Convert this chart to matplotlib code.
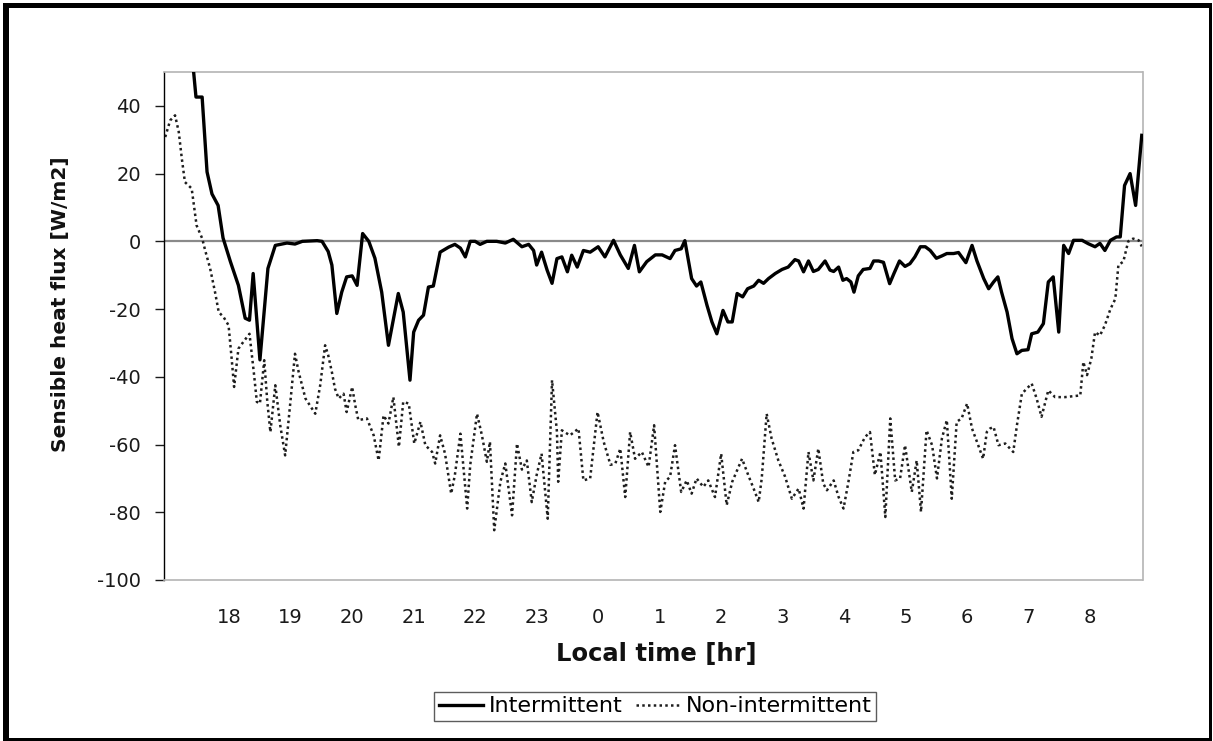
import matplotlib
matplotlib.use("Agg")
import matplotlib.pyplot as plt
from matplotlib.patches import Rectangle
from matplotlib.lines import Line2D

# Local time in decimal hours (values past 24 continue into the next morning)
time_intermittent = [17.37, 17.46, 17.56, 17.64, 17.72, 17.82, 17.90, 18.02, 18.15, 18.26,
                     18.33, 18.39, 18.50, 18.63, 18.75, 18.94, 19.07, 19.19, 19.43, 19.51,
                     19.61, 19.67, 19.75, 19.83, 19.91, 20.00, 20.08, 20.17, 20.27, 20.37,
                     20.48, 20.59, 20.75, 20.83, 20.94, 21.00, 21.08, 21.16, 21.24, 21.32,
                     21.43, 21.57, 21.67, 21.76, 21.84, 21.92, 22.00, 22.08, 22.19, 22.35,
                     22.49, 22.62, 22.76, 22.87, 22.95, 23.00, 23.08, 23.17, 23.25, 23.33,
                     23.41, 23.50, 23.57, 23.66, 23.76, 23.87, 24.00, 24.11, 24.25, 24.36,
                     24.49, 24.59, 24.67, 24.79, 24.93, 25.04, 25.17, 25.25, 25.35, 25.41,
                     25.52, 25.60, 25.67, 25.77, 25.85, 25.93, 26.03, 26.11, 26.18, 26.26,
                     26.35, 26.43, 26.53, 26.61, 26.69, 26.77, 26.88, 26.99, 27.09, 27.20,
                     27.26, 27.34, 27.42, 27.50, 27.58, 27.69, 27.77, 27.83, 27.91, 27.98,
                     28.04, 28.11, 28.16, 28.23, 28.31, 28.42, 28.48, 28.56, 28.64, 28.74,
                     28.81, 28.90, 28.99, 29.07, 29.15, 29.24, 29.32, 29.40, 29.50, 29.59,
                     29.67, 29.78, 29.86, 29.98, 30.08, 30.16, 30.27, 30.35, 30.43, 30.50,
                     30.56, 30.65, 30.73, 30.81, 30.89, 30.99, 31.05, 31.15, 31.24, 31.32,
                     31.40, 31.49, 31.57, 31.65, 31.73, 31.87, 31.97, 32.08, 32.16, 32.24,
                     32.33, 32.43, 32.49, 32.56, 32.65, 32.74, 32.84]

flux_intermittent = [60, 42.6, 42.6, 20.5, 14, 10.6, 1, -6, -13, -22.7,
                     -23.3, -9.5, -35, -8, -1.2, -0.5, -0.8, 0, 0.2, 0,
                     -3, -7, -21.3, -15, -10.5, -10.2, -13, 2.3, 0, -5,
                     -15, -30.7, -15.4, -20.9, -41, -26.8, -23.3, -21.8, -13.5, -13.2,
                     -3.2, -1.7, -0.9, -2, -4.6, 0, 0, -0.9, 0, 0,
                     -0.5, 0.6, -1.6, -0.9, -2.7, -7, -3.2, -8.5, -12.4, -5.1,
                     -4.6, -9, -4.1, -7.6, -2.7, -3.2, -1.6, -4.6, 0.3, -4,
                     -8, -1.2, -9, -6, -4, -4, -5.1, -2.7, -2.2, 0.2,
                     -11, -13.2, -12, -18.9, -23.8, -27.3, -20.4, -23.8, -23.8, -15.4,
                     -16.4, -14, -13.2, -11.5, -12.4, -11, -9.5, -8.3, -7.6, -5.4,
                     -5.8, -9, -5.8, -8.9, -8.3, -5.8, -8.5, -8.9, -7.6, -11.5,
                     -11, -12, -15, -10.2, -8.3, -8, -5.8, -5.8, -6.2, -12.5,
                     -9.5, -5.8, -7.4, -6.6, -4.6, -1.6, -1.6, -2.7, -5, -4.3,
                     -3.6, -3.6, -3.3, -6.3, -1.2, -5.8, -11, -14, -12, -10.5,
                     -15, -20.9, -28.7, -33.2, -32.2, -32, -27.3, -26.8, -24.3, -12,
                     -10.5, -26.8, -1.2, -3.6, 0.3, 0.3, -0.7, -1.6, -0.6, -2.7,
                     0.3, 1.3, 1.3, 16.5, 20, 10.6, 31.3]

time_non_intermittent = [16.96, 17.04, 17.12, 17.18, 17.23, 17.28, 17.39, 17.47, 17.56, 17.61,
                         17.69, 17.77, 17.83, 17.91, 17.99, 18.04, 18.08, 18.15, 18.23, 18.33,
                         18.40, 18.45, 18.50, 18.57, 18.62, 18.67, 18.75, 18.83, 18.91, 18.99,
                         19.07, 19.13, 19.24, 19.40, 19.48, 19.56, 19.61, 19.67, 19.72, 19.78,
                         19.86, 19.91, 20.00, 20.05, 20.10, 20.24, 20.35, 20.43, 20.51, 20.59,
                         20.67, 20.76, 20.83, 20.92, 21.01, 21.11, 21.19, 21.30, 21.35, 21.43,
                         21.51, 21.61, 21.67, 21.76, 21.81, 21.87, 21.92, 22.03, 22.11, 22.19,
                         22.24, 22.31, 22.41, 22.49, 22.60, 22.68, 22.76, 22.84, 22.92, 23.00,
                         23.08, 23.18, 23.25, 23.33, 23.35, 23.41, 23.54, 23.68, 23.76, 23.87,
                         23.99, 24.09, 24.20, 24.28, 24.36, 24.44, 24.52, 24.60, 24.71, 24.82,
                         24.91, 25.01, 25.09, 25.17, 25.25, 25.35, 25.44, 25.52, 25.60, 25.71,
                         25.79, 25.90, 26.00, 26.09, 26.18, 26.34, 26.44, 26.55, 26.61, 26.66,
                         26.74, 26.82, 26.93, 27.04, 27.15, 27.26, 27.34, 27.42, 27.50, 27.58,
                         27.66, 27.72, 27.83, 27.91, 27.99, 28.07, 28.15, 28.23, 28.34, 28.42,
                         28.50, 28.59, 28.67, 28.75, 28.83, 28.91, 28.99, 29.10, 29.18, 29.25,
                         29.34, 29.43, 29.51, 29.59, 29.67, 29.75, 29.83, 29.91, 30.00, 30.08,
                         30.16, 30.26, 30.32, 30.37, 30.43, 30.51, 30.62, 30.75, 30.81, 30.89,
                         30.97, 31.05, 31.13, 31.21, 31.32, 31.43, 31.59, 31.84, 31.89, 31.95,
                         32.02, 32.08, 32.16, 32.24, 32.33, 32.41, 32.46, 32.54, 32.62, 32.70,
                         32.79, 32.84]

flux_non_intermittent = [30.8, 35.7, 37.2, 32.3, 24.4, 17.5, 15.6, 4.7, 0.9, -2.7,
                         -8, -15, -20.9, -22.4, -24.8, -34.6, -43, -31.7, -29.7, -27.3,
                         -38.6, -47.4, -47.9, -35.1, -47.4, -56.3, -42.5, -54.3, -63.2, -48.4,
                         -33.2, -38.6, -46.4, -50.9, -42.5, -30.7, -33.6, -38.6, -43.5, -46.4,
                         -45, -50.4, -43, -48.4, -52.8, -52.3, -57.3, -64.7, -51.4, -53.8,
                         -46, -60.7, -47.4, -47.9, -59.7, -53.3, -60.2, -62.2, -65.6, -57.3,
                         -62.7, -74.5, -69, -56.8, -67, -78.9, -66, -50.9, -57.3, -65.1,
                         -59.2, -85.3, -71, -65.6, -80.9, -59.7, -67.4, -64.7, -77, -69,
                         -62.7, -81.9, -41, -56.3, -71, -55.8, -57.3, -55.3, -70.6, -70,
                         -50.4, -59.2, -66, -65.6, -61.2, -75.5, -56.3, -64.2, -62.2, -66.6,
                         -54.3, -79.9, -71, -69.5, -60.2, -74, -70.6, -74.5, -70, -72.5,
                         -70.6, -75.5, -62.7, -77.9, -71, -64.2, -69, -74, -77, -70,
                         -50.9, -58.2, -64.7, -69.5, -76, -73, -78.9, -62.2, -70.6, -61.2,
                         -71.5, -73.5, -70.6, -75.5, -78.9, -71, -62.2, -61.7, -57.8, -56.3,
                         -69, -62.2, -81.4, -52.3, -70.6, -70, -60.2, -74, -64.7, -79.9,
                         -55.8, -60.2, -70, -58.2, -52.8, -76, -53.3, -52.3, -47.9, -55.3,
                         -59.2, -64.2, -56.3, -55.3, -54.8, -60.2, -59.7, -62.2, -54.3, -45,
                         -43.5, -42, -46.4, -51.8, -44, -46, -46, -45.5, -35.6, -39.5,
                         -34.6, -26.8, -27.8, -24.8, -20, -17, -7, -6, 0, 0.8,
                         0.3, -1.5]

hour_ticks = list(range(18, 33))
hour_labels = ["18", "19", "20", "21", "22", "23", "0", "1", "2", "3", "4", "5", "6", "7", "8"]
flux_ticks = [-100, -80, -60, -40, -20, 0, 20, 40]
flux_labels = ["-100", "-80", "-60", "-40", "-20", "0", "20", "40"]

W, H = 1213, 741
fig = plt.figure(figsize=(W / 100, H / 100), dpi=100)
fig.patch.set_facecolor("white")


def px_rect(x0, y0, x1, y1):
    """Figure-fraction rectangle from pixel corners (origin top-left)."""
    return (x0 / W, 1 - y1 / H), (x1 - x0) / W, (y1 - y0) / H


# Black frame around the whole figure
for corners in [(3, 3, 8.5, 741), (3, 3, 1212, 8), (1209, 3, 1212, 741), (3, 738, 1212, 741)]:
    xy, w, h = px_rect(*corners)
    fig.patches.append(Rectangle(xy, w, h, transform=fig.transFigure,
                                 facecolor="black", edgecolor="none", zorder=0))

ax = fig.add_axes([164 / W, 1 - 580 / H, (1143 - 164) / W, (580 - 72) / H])
ax.set_facecolor("white")

ax.axhline(0, color="#8a8a8a", lw=1.6, zorder=1)

ax.plot(time_intermittent, flux_intermittent, color="black", lw=2.4,
        solid_joinstyle="round", zorder=3)
ax.plot(time_non_intermittent, flux_non_intermittent, color="#1e1e1e", lw=1.8,
        linestyle=(0, (1, 1.3)), zorder=2)

ax.set_xlim(16.94, 32.86)
ax.set_ylim(-100, 50)

ax.set_xticks(hour_ticks)
ax.set_xticklabels(hour_labels)
ax.set_yticks(flux_ticks)
ax.set_yticklabels(flux_labels)

ax.tick_params(axis="x", length=0, pad=20, labelsize=14, colors="#1a1a1a")
ax.tick_params(axis="y", direction="out", length=6.5, width=1, pad=10,
               labelsize=14, colors="#1a1a1a")

ax.spines["left"].set_color("black")
ax.spines["left"].set_linewidth(1.0)
for side in ["top", "right", "bottom"]:
    ax.spines[side].set_color("#b4b4b4")
    ax.spines[side].set_linestyle((0, (1, 1)))
    ax.spines[side].set_linewidth(1.2)

fig.text(61 / W, 1 - 304 / H, "Sensible heat flux [W/m2]", rotation=90,
         ha="center", va="center", fontsize=14.5, fontweight="bold", color="#111111")
fig.text(656 / W, 1 - 654 / H, "Local time [hr]", ha="center", va="center",
         fontsize=17.5, fontweight="bold", color="#111111")

handles = [Line2D([], [], color="black", lw=2.4),
           Line2D([], [], color="#1e1e1e", lw=1.8, linestyle=(0, (1, 1.3)))]
leg = fig.legend(handles, ["Intermittent", "Non-intermittent"], ncol=2,
                 loc="center", bbox_to_anchor=(655 / W, 1 - 706.5 / H),
                 fontsize=16, frameon=True, fancybox=False, handlelength=2.0,
                 handletextpad=0.25, columnspacing=0.6, borderpad=0.2,
                 borderaxespad=0)
leg.get_frame().set_edgecolor("#333333")
leg.get_frame().set_linewidth(1.0)

fig.savefig("out.png", dpi=100)
